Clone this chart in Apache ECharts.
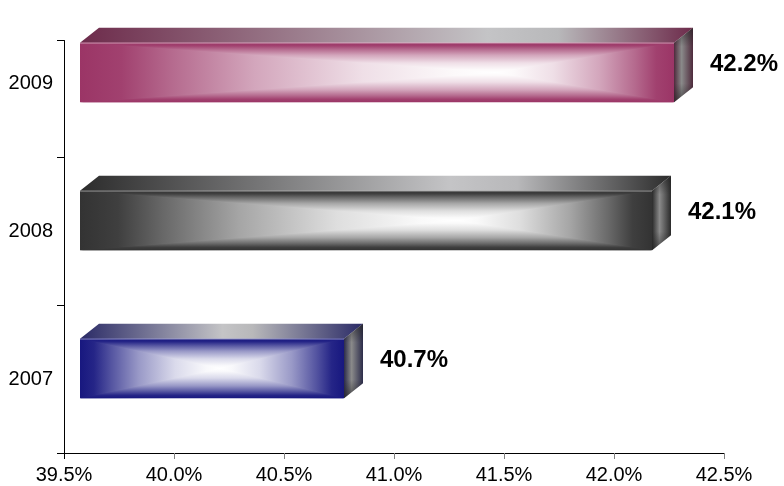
<!DOCTYPE html>
<html>
<head>
<meta charset="utf-8">
<script src="https://cdn.jsdelivr.net/npm/echarts@6/dist/echarts.min.js"></script>
<style>
html,body{margin:0;padding:0;background:#fff;}
#c{width:784px;height:486px;}
</style>
</head>
<body>
<div id="c"></div>
<script>
// ---- data ----
const years = ['2007', '2008', '2009'];
const shares = [40.7, 42.1, 42.2];
const axisMin = 39.5;
const axisMax = 42.5;
const axisStep = 0.5;

// ---- styles (per bar) ----
const baseColors = ['#17177f', '#333333', '#9b3566'];
const topDark = ['#2a2a66', '#2c2c2c', '#6d2b4b'];
const sideDark = ['#2c2c4a', '#2a2a2a', '#4e2a3c'];
const whiteAt = [0.53, 0.66, 0.7];

const FONT = '"Liberation Sans", Arial, sans-serif';
const DX = 19, DY = -15;       // 3D depth offset
const SHIFT_X = 16, SHIFT_Y = -10.5;

function hexToRgb(hex) {
  const n = parseInt(hex.slice(1), 16);
  return [(n >> 16) & 255, (n >> 8) & 255, n & 255];
}
function mixWhite(hex, m) {
  const c = hexToRgb(hex);
  return 'rgb(' + c.map(v => Math.round(v + (255 - v) * m)).join(',') + ')';
}
// path-gradient profile: t = 1 at edge, 0 at centre; value = whiteness
const profile = [[1, 0], [0.9, 0.06], [0.78, 0.26], [0.58, 0.56], [0.32, 0.84], [0.1, 0.97], [0, 1]];

const chart = echarts.init(document.getElementById('c'), null, {renderer: 'canvas'});

function renderItem(params, api) {
  const idx = api.value(0);
  const v = api.value(1);
  const i = params.dataIndex;
  const pStart = api.coord([axisMin, idx]);
  const pEnd = api.coord([v, idx]);
  const band = api.size([0, 1])[1];
  const h = band * 0.402;
  const x0 = pStart[0] + SHIFT_X;
  const x1 = pEnd[0] + SHIFT_X;
  const yc = pEnd[1] + SHIFT_Y;
  const yt = yc - h / 2, yb = yc + h / 2;
  const base = baseColors[i];
  const w = whiteAt[i];
  const xc = x0 + (x1 - x0) * w;
  const L = echarts.graphic.LinearGradient;

  const hStops = [];
  profile.forEach(([t, m]) => hStops.push({offset: w * (1 - t), color: mixWhite(base, m)}));
  profile.slice().reverse().forEach(([t, m]) => { if (t > 0) hStops.push({offset: w + (1 - w) * t, color: mixWhite(base, m)}); });
  const front = new L(0, 0, 1, 0, hStops);
  const topStops = profile.map(([t, m]) => ({offset: 1 - t, color: mixWhite(base, m)}));
  const botStops = profile.map(([t, m]) => ({offset: t, color: mixWhite(base, m)}));

  const top = new L(0, 0, 1, 0, [
    {offset: 0, color: topDark[i]},
    {offset: w * 0.95, color: '#c4c4c6'},
    {offset: Math.min(w + 0.08, 0.98), color: '#b8b8ba'},
    {offset: 1, color: topDark[i]}
  ]);
  const side = new L(0, 0, 1, 0, [
    {offset: 0, color: sideDark[i]},
    {offset: 0.4, color: '#8a8a8a'},
    {offset: 1, color: sideDark[i]}
  ]);
  const sideV = new L(0, 0, 0, 1, [
    {offset: 0, color: 'rgba(34,34,34,0.6)'},
    {offset: 0.25, color: 'rgba(34,34,34,0)'},
    {offset: 0.75, color: 'rgba(34,34,34,0)'},
    {offset: 1, color: 'rgba(34,34,34,0.6)'}
  ]);
  return {
    type: 'group',
    children: [
      {type: 'polygon', shape: {points: [[x0, yt], [x0 + DX, yt + DY], [x1 + DX, yt + DY], [x1, yt]]},
       style: {fill: top}},
      {type: 'polygon', shape: {points: [[x1, yt], [x1 + DX, yt + DY], [x1 + DX, yb + DY], [x1, yb]]},
       style: {fill: side}},
      {type: 'polygon', shape: {points: [[x1, yt], [x1 + DX, yt + DY], [x1 + DX, yb + DY], [x1, yb]]},
       style: {fill: sideV}},
      {type: 'rect', shape: {x: x0, y: yt, width: x1 - x0, height: h}, style: {fill: front}},
      {type: 'polygon', shape: {points: [[x0, yt], [x1, yt], [xc, yc]]},
       style: {fill: new L(0, 0, 0, 1, topStops)}},
      {type: 'polygon', shape: {points: [[x0, yb], [x1, yb], [xc, yc]]},
       style: {fill: new L(0, 0, 0, 1, botStops)}},
      {type: 'line', shape: {x1: x0, y1: yt + 0.5, x2: x1, y2: yt + 0.5},
       style: {stroke: 'rgba(255,255,255,0.35)', lineWidth: 1}},
      {type: 'text', x: x1 + 36, y: yc - 8,
       style: {text: v.toFixed(1) + '%', font: 'bold 24px ' + FONT, fill: '#000',
               align: 'left', verticalAlign: 'middle'}}
    ]
  };
}

const option = {
  animation: false,
  backgroundColor: '#ffffff',
  grid: {left: 64, right: 60, top: 9, bottom: 33, containLabel: false},
  xAxis: {
    type: 'value', min: axisMin, max: axisMax, interval: axisStep,
    axisLine: {show: true, lineStyle: {color: '#000', width: 1}},
    axisTick: {show: true, length: 6, lineStyle: {color: '#808080'}},
    splitLine: {show: false},
    axisLabel: {formatter: v => v.toFixed(1) + '%', color: '#000', fontSize: 20,
                fontFamily: FONT, margin: 12}
  },
  yAxis: {
    type: 'category', data: years,
    axisLine: {show: false}, axisTick: {show: false},
    axisLabel: {color: '#000', fontSize: 20, fontFamily: FONT, margin: 11}
  },
  series: [{
    type: 'custom',
    renderItem: renderItem,
    encode: {x: 1, y: 0},
    data: years.map((y, k) => [k, shares[k]]),
    clip: false
  }]
};
chart.setOption(option);

// y-axis line and ticks (axis decoration), positioned from the grid
const gridRect = chart.getModel().getComponent('grid').coordinateSystem.getRect();
const bandPx = gridRect.height / years.length;
const axisX = gridRect.x;
const yBottom = gridRect.y + gridRect.height;
const yTopLine = gridRect.y + bandPx * 0.21;
const ticksY = [yTopLine];
for (let k = 1; k <= years.length - 1; k++) ticksY.push(gridRect.y + bandPx * k);
ticksY.push(yBottom);
const g = [{type: 'line', shape: {x1: axisX + 0.5, y1: yTopLine, x2: axisX + 0.5, y2: yBottom + 6},
            style: {stroke: '#000', lineWidth: 1}, z: 10}];
ticksY.forEach(t => g.push({type: 'line', shape: {x1: axisX - 7, y1: Math.round(t) + 0.5, x2: axisX, y2: Math.round(t) + 0.5},
                             style: {stroke: '#000', lineWidth: 1}, z: 10}));
chart.setOption({graphic: g});
</script>
</body>
</html>
